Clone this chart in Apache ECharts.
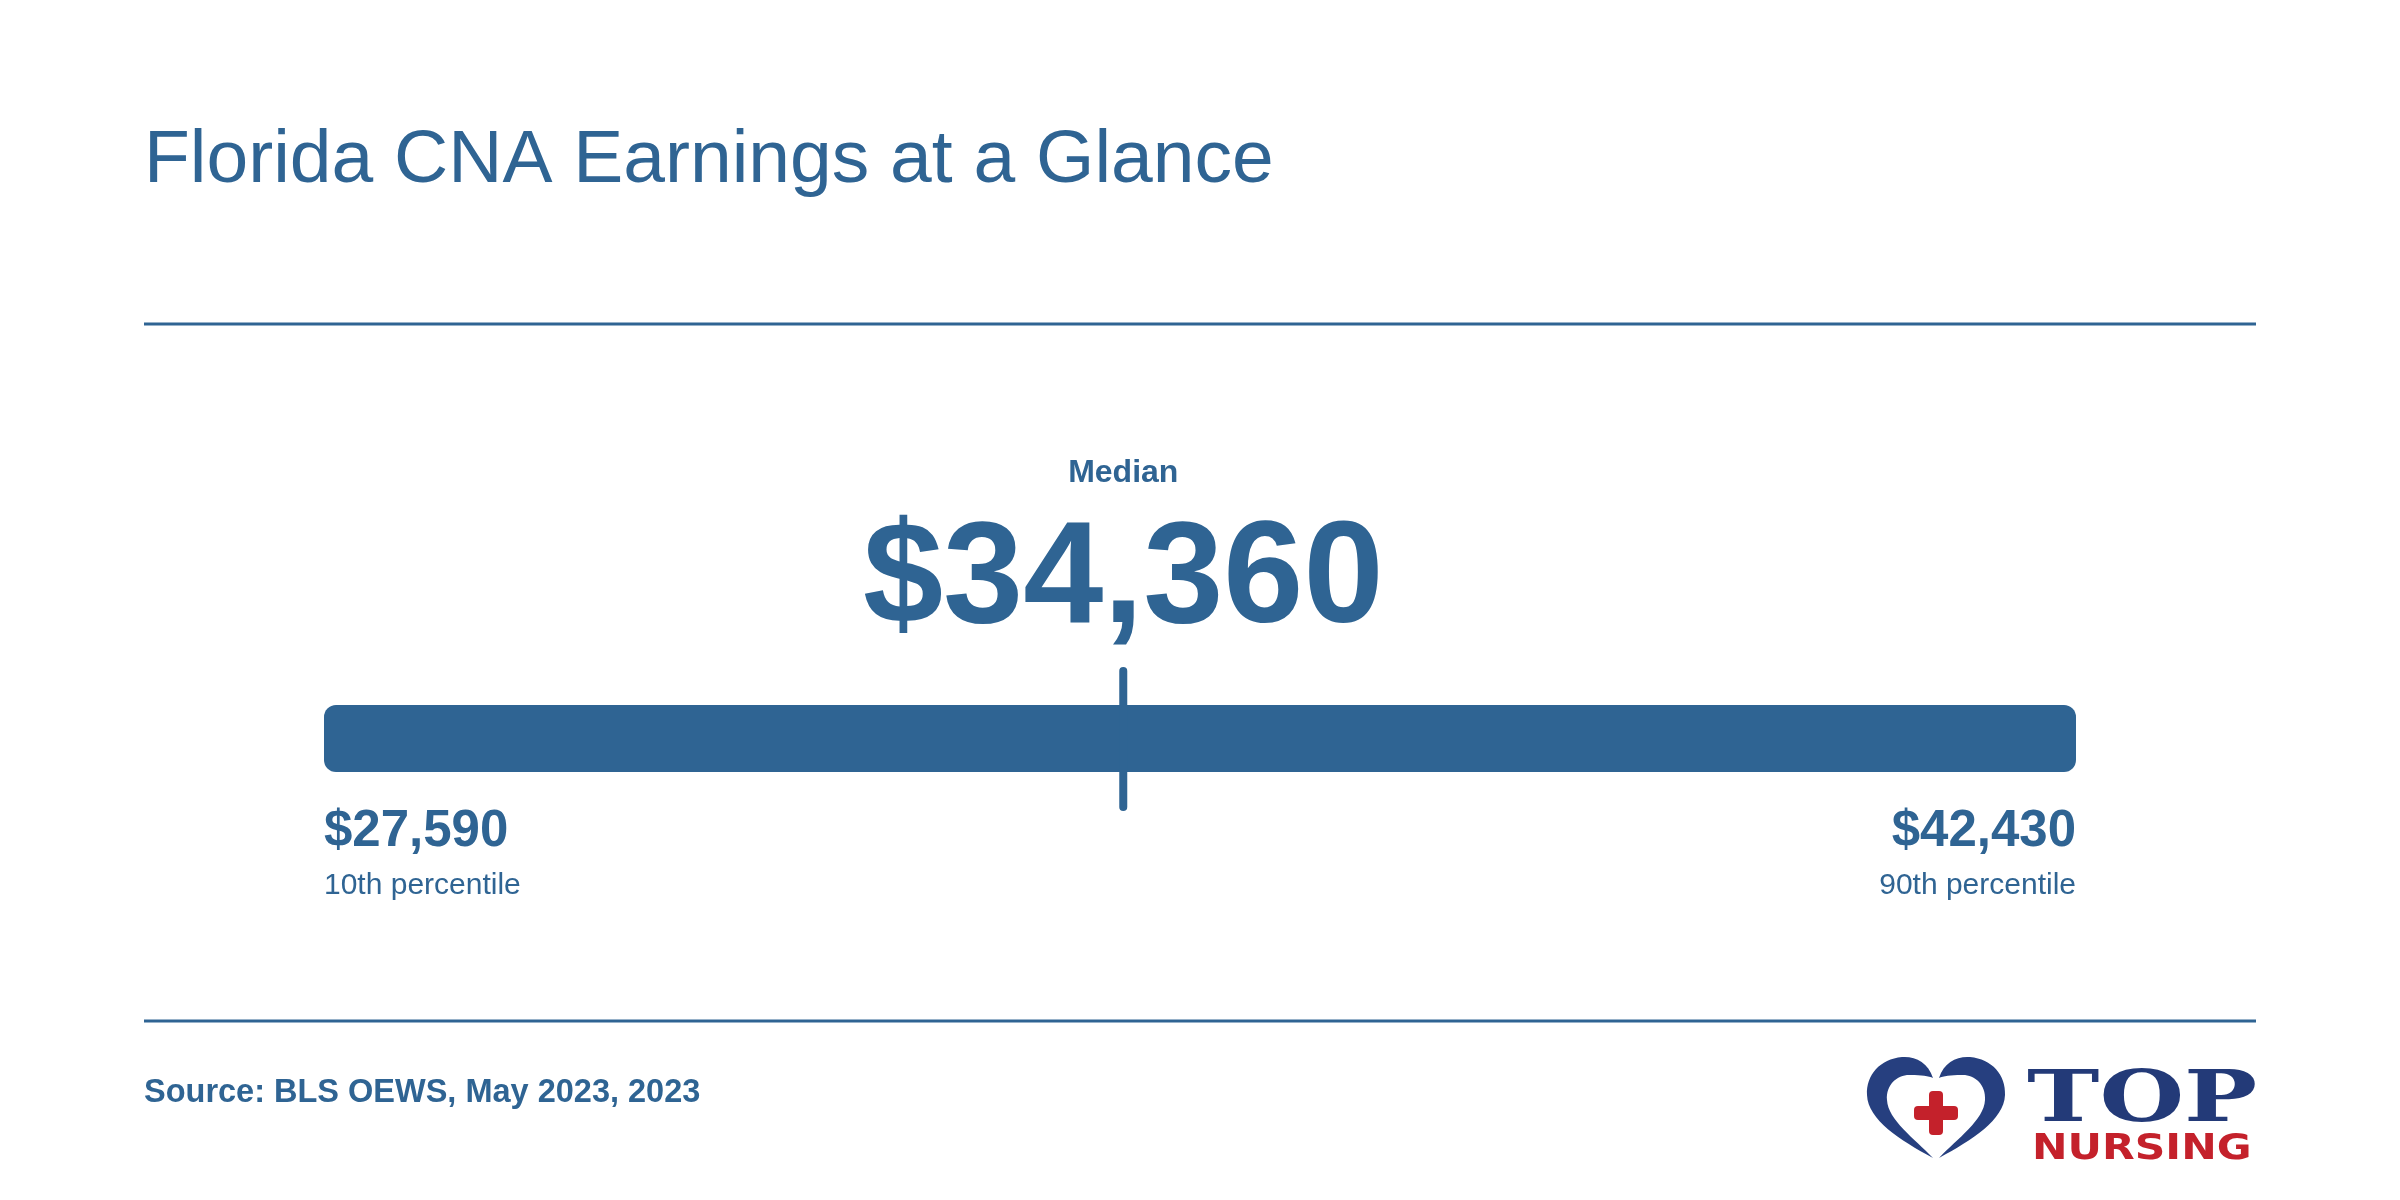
<!DOCTYPE html>
<html>
<head>
<meta charset="utf-8">
<title>Florida CNA Earnings at a Glance</title>
<script src="https://cdn.jsdelivr.net/npm/echarts@6/dist/echarts.min.js"></script>
<style>
  html, body { margin: 0; padding: 0; background: #ffffff; }
  #myChart { width: 2400px; height: 1200px; }
</style>
</head>
<body>
<div id="myChart"></div>
<script>
  // chart data
  const stateName = ['Florida'];
  const percentileNames = ['10th percentile', 'Median', '90th percentile'];
  const wages = [27590, 34360, 42430];
  const titleText = 'Florida CNA Earnings at a Glance';
  const sourceText = 'Source: BLS OEWS, May 2023, 2023';

  const blue = '#2f6493';
  const FONT = '"Liberation Sans", Arial, Helvetica, sans-serif';

  function money(v) {
    return '$' + v.toLocaleString('en-US');
  }

  let myChart = echarts.init(document.getElementById('myChart'));

  // heart lobe of the logo (left half, mirrored for the right half)
  const lobe = 'M 1933 1078 C 1928 1062, 1915 1056, 1902 1057 ' +
    'C 1880 1059, 1866 1075, 1867 1095 C 1868 1120, 1900 1140, 1933 1158 ' +
    'C 1914 1138, 1888 1120, 1887 1100 C 1886 1084, 1898 1074, 1911 1075 ' +
    'C 1921 1075, 1929 1076, 1933 1078 Z';

  myChart.setOption({
    backgroundColor: '#ffffff',
    animation: false,
    grid: {
      left: 324,
      right: 324,
      top: 705,
      height: 67
    },
    xAxis: {
      type: 'value',
      min: wages[0],
      max: wages[2],
      show: false
    },
    yAxis: {
      type: 'category',
      data: stateName,
      show: false
    },
    graphic: [
      {
        type: 'text', x: 144, y: 161,
        style: { text: titleText, fill: blue, font: '75px ' + FONT, align: 'left', verticalAlign: 'middle' }
      },
      {
        type: 'line', shape: { x1: 144, y1: 324, x2: 2256, y2: 324 },
        style: { stroke: blue, lineWidth: 3 }
      },
      {
        type: 'line', shape: { x1: 144, y1: 1021, x2: 2256, y2: 1021 },
        style: { stroke: blue, lineWidth: 3 }
      },
      {
        type: 'text', x: 144, y: 1093,
        style: { text: sourceText, fill: blue, font: 'bold 32.5px ' + FONT, align: 'left', verticalAlign: 'middle' }
      },
      { type: 'rect', shape: { x: 1914, y: 1106, width: 44, height: 14, r: 4 }, style: { fill: '#c4212b' } },
      { type: 'rect', shape: { x: 1929, y: 1091, width: 14, height: 44, r: 4 }, style: { fill: '#c4212b' } },
      {
        type: 'text', x: 2027, y: 1103, scaleX: 1.37,
        style: { text: 'TOP', fill: '#233a78', font: 'bold 71px "DejaVu Serif", serif', align: 'left', verticalAlign: 'middle' }
      },
      {
        type: 'text', x: 2032, y: 1150, scaleX: 1.18,
        style: { text: 'NURSING', fill: '#c4212b', font: 'bold 36px "DejaVu Sans", sans-serif', align: 'left', verticalAlign: 'middle' }
      }
    ],
    series: [
      {
        // 10th to 90th percentile range
        name: 'range',
        type: 'custom',
        data: [[wages[0], wages[2], 0]],
        renderItem: function (params, api) {
          let start = api.coord([api.value(0), api.value(2)]);
          let end = api.coord([api.value(1), api.value(2)]);
          let h = api.size([0, 1])[1];
          return {
            type: 'group',
            children: [
              {
                type: 'rect',
                shape: { x: start[0], y: start[1] - h / 2, width: end[0] - start[0], height: h, r: 12 },
                style: { fill: blue }
              },
              {
                type: 'text', x: start[0], y: start[1] + 93.5,
                style: { text: money(api.value(0)), fill: blue, font: 'bold 51px ' + FONT, align: 'left', verticalAlign: 'middle' }
              },
              {
                type: 'text', x: start[0], y: start[1] + 147.5,
                style: { text: percentileNames[0], fill: blue, font: '30px ' + FONT, align: 'left', verticalAlign: 'middle' }
              },
              {
                type: 'text', x: end[0], y: end[1] + 93.5,
                style: { text: money(api.value(1)), fill: blue, font: 'bold 51px ' + FONT, align: 'right', verticalAlign: 'middle' }
              },
              {
                type: 'text', x: end[0], y: end[1] + 147.5,
                style: { text: percentileNames[2], fill: blue, font: '30px ' + FONT, align: 'right', verticalAlign: 'middle' }
              }
            ]
          };
        }
      },
      {
        // median marker
        name: 'median',
        type: 'custom',
        data: [[wages[1], 0]],
        renderItem: function (params, api) {
          let p = api.coord([api.value(0), api.value(1)]);
          return {
            type: 'group',
            children: [
              {
                type: 'line',
                shape: { x1: p[0], y1: p[1] - 67.5, x2: p[0], y2: p[1] + 68.5 },
                style: { stroke: blue, lineWidth: 8, lineCap: 'round' }
              },
              {
                type: 'text', x: p[0], y: p[1] - 265,
                style: { text: percentileNames[1], fill: blue, font: 'bold 32px ' + FONT, align: 'center', verticalAlign: 'middle' }
              },
              {
                type: 'text', x: p[0], y: p[1] - 156,
                style: { text: money(api.value(0)), fill: blue, font: 'bold 144px ' + FONT, align: 'center', verticalAlign: 'middle' }
              }
            ]
          };
        }
      },
      {
        // logo heart
        name: 'logo',
        type: 'custom',
        coordinateSystem: 'none',
        silent: true,
        data: [[0]],
        renderItem: function () {
          return {
            type: 'group',
            children: [
              { type: 'path', shape: { pathData: lobe }, style: { fill: '#263f7f' } },
              {
                type: 'group', x: 3872, scaleX: -1,
                children: [{ type: 'path', shape: { pathData: lobe }, style: { fill: '#263f7f' } }]
              }
            ]
          };
        }
      }
    ]
  });
</script>
</body>
</html>
